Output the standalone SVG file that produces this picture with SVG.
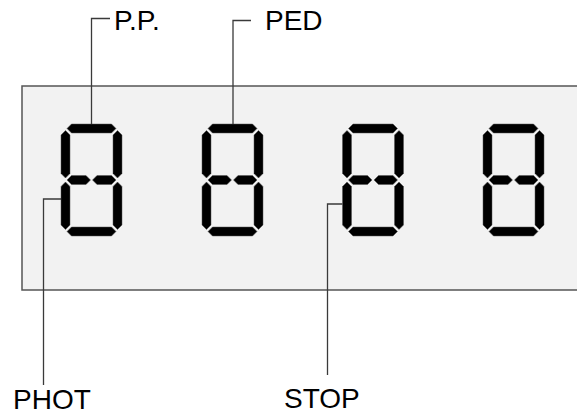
<svg xmlns="http://www.w3.org/2000/svg" width="577" height="416" viewBox="0 0 577 416">
<defs>
<style>
.lead{fill:none;stroke:#3a3a3a;stroke-width:1.3}
.seg{fill:#000;stroke:#555;stroke-width:0.5}
.lbl{font-family:"Liberation Sans",Arial,sans-serif;font-size:28px;fill:#000}
</style>
<g id="digit">
<polygon class="seg" points="10.5,0 50.5,0 55,4.5 50.5,9 10.5,9 6,4.5"/>
<polygon class="seg" points="4.5,6.5 9,11 9,49.5 4.5,54 0,49.5 0,11"/>
<polygon class="seg" points="56.5,6.5 61,11 61,49.5 56.5,54 52,49.5 52,11"/>
<polygon class="seg" points="6,56 10.5,51.5 25,51.5 29.5,56 25,60.5 10.5,60.5"/>
<polygon class="seg" points="31.5,56 36,51.5 50.5,51.5 55,56 50.5,60.5 36,60.5"/>
<polygon class="seg" points="4.5,58 9,62.5 9,101 4.5,105.5 0,101 0,62.5"/>
<polygon class="seg" points="56.5,58 61,62.5 61,101 56.5,105.5 52,101 52,62.5"/>
<polygon class="seg" points="10.5,103 50.5,103 55,107.5 50.5,112 10.5,112 6,107.5"/>
</g>
</defs>
<g id="panel">
<rect x="22" y="86" width="570" height="204" fill="#f2f2f2" stroke="#555" stroke-width="1.5"/>
</g>
<g id="digit1"><use href="#digit" x="61" y="124"/></g>
<g id="digit2"><use href="#digit" x="202" y="124"/></g>
<g id="digit3"><use href="#digit" x="342.5" y="124"/></g>
<g id="digit4"><use href="#digit" x="483" y="124"/></g>
<g id="connectors">
<polyline class="lead" points="110,18.5 91.5,18.5 91.5,124"/>
<polyline class="lead" points="251,20.5 233,20.5 233,124"/>
<polyline class="lead" points="61,199 43.5,199 43.5,385"/>
<polyline class="lead" points="342.5,204 327.5,204 327.5,375"/>
</g>
<g id="label-pp"><text class="lbl" x="114" y="30">P.P.</text></g>
<g id="label-ped"><text class="lbl" x="265" y="30">PED</text></g>
<g id="label-phot"><text class="lbl" x="13" y="409">PHOT</text></g>
<g id="label-stop"><text class="lbl" x="284" y="408">STOP</text></g>
</svg>
